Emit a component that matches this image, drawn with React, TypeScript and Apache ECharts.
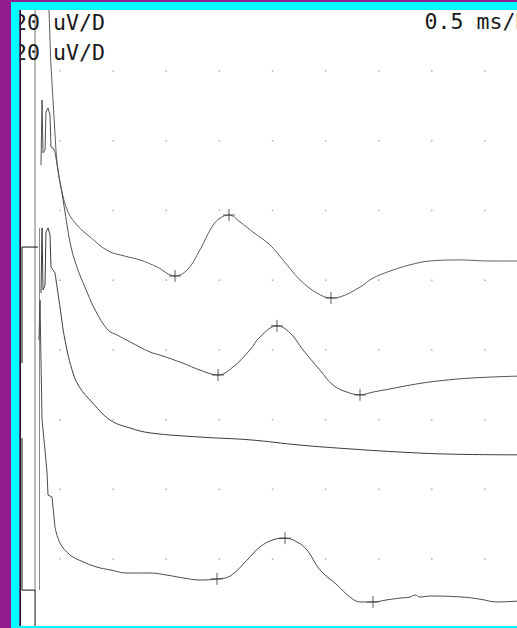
import React, { useEffect, useRef } from "react";
import * as echarts from "echarts";

// time (ms) and amplitude (uV, display position) of each trace
const t1T = [0.391, 0.411, 0.433, 0.461, 0.48, 0.508, 0.574, 0.669, 0.782, 0.951, 1.111, 1.252, 1.412, 1.582, 1.695, 1.817, 1.93, 2.006, 2.09, 2.194, 2.316, 2.476, 2.599, 2.759, 2.919, 3.051, 3.136, 3.324, 3.446, 3.606, 3.795, 3.983, 4.266, 4.548, 4.831];
const t1V = [181.8, 163.2, 151.7, 137.3, 131.6, 126.7, 119.6, 115.5, 112.4, 108.4, 106.9, 105.8, 103.8, 101.2, 102.9, 108.7, 115.3, 117.8, 118.7, 116.7, 113.8, 110.1, 105.8, 100.1, 96.3, 94.9, 95.2, 98.0, 100.6, 102.6, 104.4, 105.5, 105.8, 105.5, 105.5];

const t2T = [0.32, 0.33, 0.339, 0.358, 0.367, 0.386, 0.405, 0.414, 0.433, 0.452, 0.48, 0.508, 0.546, 0.603, 0.669, 0.734, 0.829, 0.951, 1.036, 1.158, 1.347, 1.441, 1.657, 1.817, 1.987, 2.128, 2.288, 2.382, 2.542, 2.665, 2.787, 2.947, 3.07, 3.202, 3.324, 3.446, 3.606, 3.795, 3.983, 4.266, 4.548, 4.831];
const t2V = [133.0, 151.7, 136.5, 137.3, 148.2, 149.4, 147.4, 138.2, 137.9, 136.8, 131.6, 126.7, 119.6, 109.5, 102.9, 98.0, 91.5, 85.7, 84.3, 82.3, 79.4, 78.5, 76.2, 74.2, 72.8, 75.1, 80.0, 83.7, 86.9, 84.9, 80.0, 74.2, 69.9, 67.9, 67.1, 67.9, 68.8, 69.9, 70.8, 71.7, 72.2, 72.5];

const t3T = [0.32, 0.33, 0.339, 0.358, 0.367, 0.386, 0.405, 0.414, 0.452, 0.499, 0.546, 0.621, 0.687, 0.782, 0.97, 1.158, 1.347, 1.817, 2.288, 2.759, 3.23, 3.701, 4.171, 4.831];
const t3V = [96.3, 115.0, 97.2, 98.6, 113.8, 115.0, 113.0, 103.8, 102.1, 92.3, 82.8, 73.4, 69.1, 65.6, 59.9, 57.6, 56.2, 55.0, 54.2, 52.7, 51.6, 50.7, 50.1, 49.9];

const t4T = [0.301, 0.311, 0.32, 0.33, 0.348, 0.358, 0.377, 0.386, 0.424, 0.452, 0.499, 0.593, 0.716, 0.847, 0.97, 1.13, 1.347, 1.507, 1.657, 1.817, 1.977, 2.1, 2.26, 2.382, 2.505, 2.618, 2.731, 2.825, 2.947, 3.107, 3.23, 3.324, 3.446, 3.578, 3.701, 3.795, 3.842, 3.889, 3.983, 4.294, 4.454, 4.614, 4.831];
const t4V = [82.8, 94.3, 77.1, 59.9, 54.2, 51.3, 44.7, 38.4, 37.8, 29.2, 24.6, 21.2, 19.2, 17.7, 16.9, 16.0, 16.0, 15.4, 14.6, 14.0, 14.3, 15.1, 19.7, 23.5, 25.5, 26.0, 24.9, 22.6, 16.9, 12.6, 9.1, 7.7, 7.7, 8.3, 8.8, 9.1, 9.7, 9.1, 9.4, 9.1, 8.5, 7.7, 8.0];

// peak / trough cursors
const markT = [1.582, 2.09, 3.051, 1.987, 2.542, 3.324, 1.977, 2.618, 3.446];
const markV = [101.2, 118.7, 94.9, 72.8, 86.9, 67.1, 14.3, 26.0, 7.7];

// stimulus artifact strokes
const artGrayT = [0.264, 0.264];
const artGrayV = [180, 11.1];
const artGray2T = [0.306, 0.306];
const artGray2V = [115.0, 11.1];
const artBlackAT = [0.292, 0.141, 0.141];
const artBlackAV = [109.5, 109.5, 76.2];
const artBlackBT = [0.141, 0.141, 0.264, 0.264];
const artBlackBV = [54.7, 11.1, 11.1, -2];

// grid dot positions (0.5 ms/D, 20 uV/D)
const gridTicksT = [0.5, 1.0, 1.5, 2.0, 2.5, 3.0, 3.5, 4.0, 4.5];
const gridTicksV = [20, 40, 60, 80, 100, 120, 140, 160];

const labelLeft = ["20 uV/D", "20 uV/D"];
const labelRight = "0.5 ms/D";

const SPIKE_END = 0.45; // ms, end of the stimulus artifact part of each trace

const zip = (a: number[], b: number[]) => a.map((v, i) => [v, b[i]]);

export default function App() {
  const ref = useRef<HTMLDivElement>(null);
  useEffect(() => {
    if (!ref.current) return;
    const chart = echarts.init(ref.current, undefined, { renderer: "svg" });
    const dots: number[][] = [];
    gridTicksT.forEach((t) => gridTicksV.forEach((v) => dots.push([t, v])));
    const lineSeries = (data: number[][], color: string, z = 2, smooth: number | boolean = false) => ({
      type: "line",
      data,
      showSymbol: false,
      symbol: "none",
      smooth,
      lineStyle: { color, width: 1 },
      clip: true,
      z,
      silent: true,
    });
    const traceSeries = (tt: number[], vv: number[], color: string) => {
      const data = zip(tt, vv);
      let k = data.findIndex((p) => p[0] >= SPIKE_END);
      if (k < 0) k = 0;
      const out: any[] = [];
      if (k > 0) out.push(lineSeries(data.slice(0, k + 1), color, 2, false));
      out.push(lineSeries(data.slice(k), color, 2, 0.4));
      return out;
    };
    const font = '21.6px "DejaVu Sans Mono", monospace';
    chart.setOption({
      animation: false,
      backgroundColor: "#921C8F",
      grid: {
        left: 21,
        right: 0,
        top: 10,
        bottom: 2,
        show: true,
        backgroundColor: "#ffffff",
        borderWidth: 0,
      },
      xAxis: {
        type: "value",
        min: 0.1318,
        max: 4.8023,
        show: false,
        splitLine: { show: false },
      },
      yAxis: {
        type: "value",
        min: 0.803,
        max: 177.5,
        show: false,
        splitLine: { show: false },
      },
      series: [
        {
          type: "scatter",
          data: dots,
          symbol: "rect",
          symbolSize: 1.5,
          itemStyle: { color: "#9a9a9a" },
          silent: true,
          z: 1,
        },
        lineSeries(zip(artGrayT, artGrayV), "#777"),
        lineSeries(zip(artGray2T, artGray2V), "#888"),
        lineSeries(zip(artBlackAT, artBlackAV), "#111", 3),
        lineSeries(zip(artBlackBT, artBlackBV), "#111", 3),
        ...traceSeries(t1T, t1V, "#5c5c5c"),
        ...traceSeries(t2T, t2V, "#4e4e4e"),
        ...traceSeries(t3T, t3V, "#3c3c3c"),
        ...traceSeries(t4T, t4V, "#4a4a4a"),
        {
          type: "scatter",
          data: zip(markT, markV),
          symbol: "path://M6,0L6,12M0,6L12,6",
          symbolSize: 12,
          itemStyle: { color: "transparent", borderColor: "#333", borderWidth: 1 },
          silent: true,
          z: 4,
        },
      ],
      graphic: [
        {
          type: "text",
          z: 5,
          style: { text: labelLeft[0], x: 14, y: 22, font, fill: "#1a1a1a", verticalAlign: "middle" },
        },
        {
          type: "text",
          z: 5,
          style: { text: labelLeft[1], x: 14, y: 52.5, font, fill: "#1a1a1a", verticalAlign: "middle" },
        },
        {
          type: "text",
          z: 5,
          style: { text: labelRight, x: 424.5, y: 21, font, fill: "#1a1a1a", verticalAlign: "middle" },
        },
        { type: "rect", z: 10, shape: { x: 0, y: 0, width: 11, height: 628 }, style: { fill: "#921C8F" } },
        { type: "rect", z: 10, shape: { x: 11, y: 2, width: 8.5, height: 626 }, style: { fill: "#00FFFF" } },
        { type: "rect", z: 10, shape: { x: 11, y: 2, width: 506, height: 8 }, style: { fill: "#00FFFF" } },
        { type: "rect", z: 10, shape: { x: 11, y: 626, width: 506, height: 2 }, style: { fill: "#00FFFF" } },
        { type: "rect", z: 10, shape: { x: 19.5, y: 10, width: 1.5, height: 616 }, style: { fill: "#3a0d3a" } },
      ],
    });
    return () => chart.dispose();
  }, []);
  return (
    <div
      ref={ref}
      style={{ position: "fixed", left: 0, top: 0, width: 517, height: 628, background: "#921C8F" }}
    />
  );
}
